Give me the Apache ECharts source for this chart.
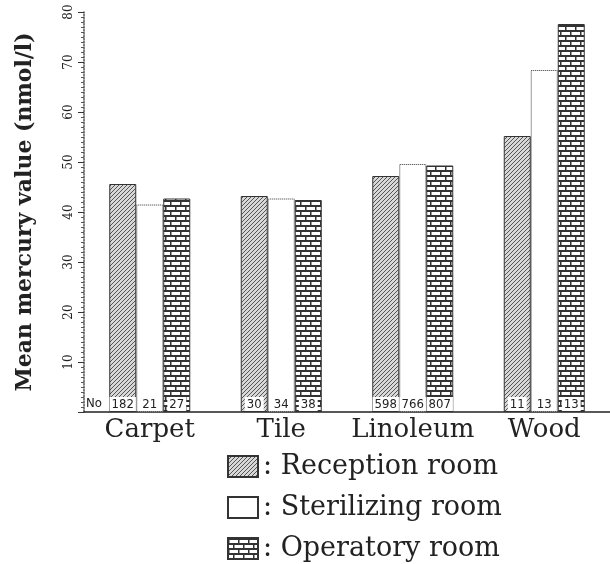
<!DOCTYPE html>
<html><head><meta charset="utf-8">
<script src="https://cdn.jsdelivr.net/npm/echarts@6/dist/echarts.min.js"></script>
<style>html,body{margin:0;padding:0;background:#fff}#c{width:610px;height:564px}</style>
</head><body><div id="c"></div>
<script>
var categories = ['Carpet', 'Tile', 'Linoleum', 'Wood'];
var seriesNames = ['Reception room', 'Sterilizing room', 'Operatory room'];
var reception = [45.6, 43.2, 47.2, 55.2];
var sterilizing = [41.5, 42.7, 49.6, 68.4];
var operatory = [42.7, 42.4, 49.3, 77.6];
var receptionN = [182, 30, 598, 11];
var sterilizingN = [21, 34, 766, 13];
var operatoryN = [27, 38, 807, 13];
var yTicks = [0, 10, 20, 30, 40, 50, 60, 70, 80];

function hatch() {
  var c = document.createElement('canvas'); c.width = 4; c.height = 4;
  var g = c.getContext('2d');
  g.fillStyle = '#d8d8d8'; g.fillRect(0, 0, 4, 4);
  g.strokeStyle = '#555'; g.lineWidth = 1;
  g.beginPath(); g.moveTo(0, 4); g.lineTo(4, 0); g.moveTo(-1, 1); g.lineTo(1, -1); g.moveTo(3, 5); g.lineTo(5, 3); g.stroke();
  return c;
}
function brick() {
  var c = document.createElement('canvas'); c.width = 10; c.height = 10;
  var g = c.getContext('2d');
  g.fillStyle = '#fff'; g.fillRect(0, 0, 10, 10);
  g.fillStyle = '#333';
  g.fillRect(0, 0, 10, 2); g.fillRect(0, 5, 10, 2);
  g.fillRect(0, 0, 1.5, 5); g.fillRect(5, 5, 1.5, 5);
  return c;
}
var colors = [{image: hatch(), repeat: 'repeat'}, '#ffffff', {image: brick(), repeat: 'repeat'}];
var values = [reception, sterilizing, operatory];
var counts = [receptionN, sterilizingN, operatoryN];

var chart = echarts.init(document.getElementById('c'));
chart.setOption({
  animation: false,
  grid: {left: 84, top: 12, bottom: 152, width: 534},
  legend: {
    orient: 'vertical', left: 222, top: 448, width: 380, height: 120,
    itemWidth: 30, itemHeight: 21, itemGap: 14,
    icon: 'rect', data: seriesNames,
    formatter: function (n) { return ': ' + n; },
    textStyle: {fontFamily: 'DejaVu Serif', fontSize: 27, color: '#222'}
  },
  xAxis: {
    type: 'category', data: categories,
    axisLine: {lineStyle: {color: '#222', width: 1.5}},
    axisTick: {show: false},
    axisLabel: {interval: 0, fontFamily: 'DejaVu Serif', fontSize: 26, color: '#222', margin: 5}
  },
  yAxis: {
    type: 'value', min: 0, max: 80, interval: 10,
    name: 'Mean mercury value (nmol/l)', nameLocation: 'middle', nameGap: 48,
    nameTextStyle: {fontFamily: 'DejaVu Serif', fontWeight: 'bold', fontSize: 22, color: '#222'},
    axisLine: {show: true, lineStyle: {color: '#555', type: 'dotted', width: 1.5}},
    axisTick: {show: true, length: 6, lineStyle: {color: '#333'}},
    minorTick: {show: true, splitNumber: 10, length: 3, lineStyle: {color: '#555'}},
    splitLine: {show: false},
    axisLabel: {rotate: 90, margin: 9, fontFamily: 'DejaVu Serif', fontSize: 12, color: '#222',
      formatter: function (v) { return yTicks.indexOf(v) > 0 ? String(v) : ''; }}
  },
  graphic: [{type: 'text', left: 86, top: 397, style: {text: 'No', font: '13px "DejaVu Sans Condensed", sans-serif', fill: '#222'}}],
  series: seriesNames.map(function (name, i) {
    return {
      name: name, type: 'bar', data: values[i], barGap: '0%', barWidth: 27,
      itemStyle: {color: colors[i], borderColor: '#333', borderWidth: 1, borderType: i === 1 ? 'dotted' : 'solid'},
      label: {
        show: true, position: 'insideBottom', distance: 1,
        formatter: function (p) { return String(counts[i][p.dataIndex]); },
        backgroundColor: '#fff', padding: [1, 2, 0, 2],
        fontFamily: 'DejaVu Sans Condensed', fontSize: 13, color: '#222'
      }
    };
  })
});
</script></body></html>
